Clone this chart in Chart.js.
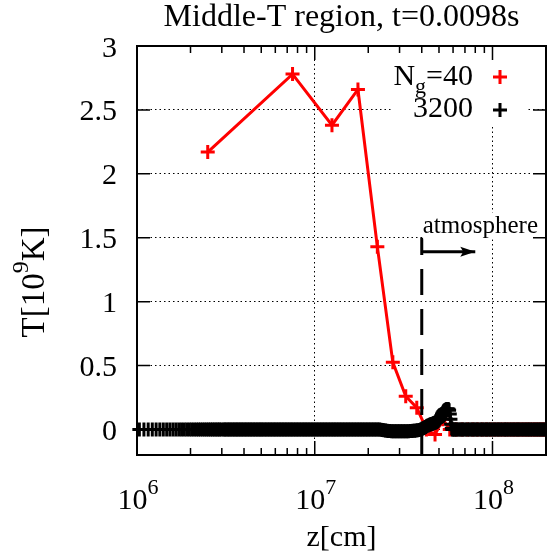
<!DOCTYPE html>
<html>
<head>
<meta charset="utf-8">
<script src="https://cdn.jsdelivr.net/npm/chart.js@4.4.1/dist/chart.umd.min.js"></script>
<style>
  html, body { margin: 0; padding: 0; background: #fff; }
  canvas { display: block; }
</style>
</head>
<body>
<canvas id="tempChart" width="548" height="556"></canvas>
<script>
// N_g = 40 run: cell centres [cm] and T [1e9 K]
const redZ = [2.5e6, 7.5e6, 1.25e7, 1.75e7, 2.25e7, 2.75e7, 3.25e7, 3.75e7, 4.25e7, 4.75e7,
  5.25e7, 5.75e7, 6.25e7, 6.75e7, 7.25e7, 7.75e7, 8.25e7, 8.75e7, 9.25e7, 9.75e7,
  1.025e8, 1.075e8, 1.125e8, 1.175e8, 1.225e8, 1.275e8, 1.325e8, 1.375e8, 1.425e8, 1.475e8,
  1.525e8, 1.575e8, 1.625e8, 1.675e8, 1.725e8, 1.775e8, 1.825e8, 1.875e8, 1.925e8, 1.975e8];
const redT = [2.17, 2.78, 2.38, 2.66, 1.43, 0.525, 0.26, 0.17, 0.0, -0.04,
  0.08, 0.0, 0, 0, 0, 0, 0, 0, 0, 0,
  0, 0, 0, 0, 0, 0, 0, 0, 0, 0,
  0, 0, 0, 0, 0, 0, 0, 0, 0, 0];

// N_g = 3200 run (thinned where the markers merge into one band)
const blackZ = [
  1.031e6, 1.094e6, 1.156e6, 1.219e6, 1.281e6, 1.344e6, 1.406e6, 1.469e6, 1.531e6, 1.594e6,
  1.656e6, 1.719e6, 1.781e6, 1.844e6, 1.906e6, 1.969e6, 2.031e6, 2.094e6, 2.156e6, 2.219e6,
  2.281e6, 2.344e6, 2.406e6, 2.469e6, 2.531e6, 2.594e6, 2.656e6, 2.719e6, 2.781e6, 2.844e6,
  2.906e6, 2.969e6, 3.06e6, 3.12e6, 3.18e6, 3.25e6, 3.31e6, 3.38e6, 3.45e6, 3.52e6,
  3.59e6, 3.66e6, 3.73e6, 3.81e6, 3.88e6, 3.96e6, 4.04e6, 4.12e6, 4.2e6, 4.29e6,
  4.37e6, 4.46e6, 4.55e6, 4.64e6, 4.74e6, 4.83e6, 4.93e6, 5.02e6, 5.12e6, 5.23e6,
  5.33e6, 5.44e6, 5.55e6, 5.66e6, 5.77e6, 5.89e6, 6.0e6, 6.12e6, 6.25e6, 6.37e6,
  6.5e6, 6.63e6, 6.76e6, 6.9e6, 7.03e6, 7.18e6, 7.32e6, 7.46e6, 7.61e6, 7.77e6,
  7.92e6, 8.08e6, 8.24e6, 8.41e6, 8.58e6, 8.75e6, 8.92e6, 9.1e6, 9.28e6, 9.47e6,
  9.66e6, 9.85e6, 1.005e7, 1.025e7, 1.045e7, 1.066e7, 1.088e7, 1.109e7, 1.132e7, 1.154e7,
  1.177e7, 1.201e7, 1.225e7, 1.25e7, 1.275e7, 1.3e7, 1.326e7, 1.353e7, 1.38e7, 1.407e7,
  1.436e7, 1.464e7, 1.494e7, 1.524e7, 1.554e7, 1.585e7, 1.617e7, 1.649e7, 1.682e7, 1.716e7,
  1.75e7, 1.785e7, 1.821e7, 1.857e7, 1.895e7, 1.933e7, 1.971e7, 2.01e7, 2.05e7, 2.092e7,
  2.134e7, 2.176e7, 2.22e7, 2.264e7, 2.31e7, 2.356e7, 2.403e7, 2.451e7, 2.5e7, 2.55e7,
  2.601e7, 2.653e7, 2.706e7, 2.76e7, 2.815e7, 2.872e7, 2.929e7, 2.988e7, 3.047e7, 3.108e7,
  3.171e7, 3.234e7, 3.299e7, 3.365e7, 3.432e7, 3.501e7, 3.571e7, 3.642e7, 3.715e7, 3.789e7,
  3.865e7, 3.942e7, 4.0e7, 4.05e7, 4.1e7, 4.15e7, 4.2e7, 4.25e7, 4.3e7, 4.35e7,
  4.4e7, 4.45e7, 4.5e7, 4.55e7, 4.6e7, 4.65e7, 4.7e7, 4.75e7, 4.8e7, 4.85e7,
  4.9e7, 4.95e7, 5.0e7, 5.05e7, 5.1e7, 5.15e7, 5.2e7, 5.25e7, 5.3e7, 5.35e7,
  5.4e7, 5.45e7, 5.5e7, 5.55e7, 5.6e7, 5.65e7, 5.7e7, 5.75e7, 5.8e7, 5.85e7,
  5.9e7, 5.95e7, 6.0e7, 6.1e7, 6.2e7, 6.3e7, 6.45e7, 6.55e7, 6.7e7, 6.8e7,
  6.95e7, 7.1e7, 7.25e7, 7.4e7, 7.55e7, 7.7e7, 7.85e7, 8.0e7, 8.15e7, 8.3e7,
  8.5e7, 8.65e7, 8.8e7, 9.0e7, 9.15e7, 9.35e7, 9.5e7, 9.7e7, 9.9e7, 1.01e8,
  1.03e8, 1.05e8, 1.07e8, 1.09e8, 1.11e8, 1.135e8, 1.16e8, 1.18e8, 1.2e8, 1.225e8,
  1.25e8, 1.275e8, 1.3e8, 1.325e8, 1.35e8, 1.38e8, 1.4e8, 1.43e8, 1.46e8, 1.49e8,
  1.52e8, 1.55e8, 1.58e8, 1.61e8, 1.64e8, 1.675e8, 1.71e8, 1.745e8, 1.78e8, 1.815e8,
  1.85e8, 1.885e8, 1.92e8, 1.96e8, 1.997e8];
const blackT = [
  0, 0, 0, 0, 0, 0, 0, 0, 0, 0,
  0, 0, 0, 0, 0, 0, 0, 0, 0, 0,
  0, 0, 0, 0, 0, 0, 0, 0, 0, 0,
  0, 0, 0, 0, 0, 0, 0, 0, 0, 0,
  0, 0, 0, 0, 0, 0, 0, 0, 0, 0,
  0, 0, 0, 0, 0, 0, 0, 0, 0, 0,
  0, 0, 0, 0, 0, 0, 0, 0, 0, 0,
  0, 0, 0, 0, 0, 0, 0, 0, 0, 0,
  0, 0, 0, 0, 0, 0, 0, 0, 0, 0,
  0, 0, 0, 0, 0, 0, 0, 0, 0, 0,
  0, 0, 0, 0, 0, 0, 0, 0, 0, 0,
  0, 0, 0, 0, 0, 0, 0, 0, 0, 0,
  0, 0, 0, 0, 0, 0, 0, 0, 0, 0,
  0, 0, 0, 0, 0, -0.003, -0.005, -0.007, -0.009, -0.011,
  -0.012, -0.013, -0.014, -0.015, -0.015, -0.015, -0.015, -0.015, -0.015, -0.015,
  -0.015, -0.015, -0.015, -0.014, -0.013, -0.012, -0.011, -0.01, -0.008, -0.006,
  -0.004, -0.001, 0.005, 0.008, 0.012, 0.016, 0.02, 0.024, 0.028, 0.031,
  0.035, 0.038, 0.04, 0.043, 0.045, 0.048, 0.05, 0.052, 0.055, 0.058,
  0.062, 0.068, 0.075, 0.085, 0.095, 0.108, 0.12, 0.13, 0.14, 0.147,
  0.152, 0.155, 0.158, 0.16, 0.16, 0.157, 0.15, 0.12, 0.08, 0.04,
  0.01, 0, 0, 0, 0, 0, 0, 0, 0, 0,
  0, 0, 0, 0, 0, 0, 0, 0, 0, 0,
  0, 0, 0, 0, 0, 0, 0, 0, 0, 0,
  0, 0, 0, 0, 0, 0, 0, 0, 0, 0,
  0, 0, 0, 0, 0, 0, 0, 0, 0, 0,
  0, 0, 0, 0, 0, 0, 0, 0, 0, 0,
  0, 0, 0, 0, 0];

const yTicks = [0, 0.5, 1, 1.5, 2, 2.5, 3];
const yTickLabels = ['0', '0.5', '1', '1.5', '2', '2.5', '3'];
const xDecades = [6, 7, 8];
const xMinor = [2e6, 3e6, 4e6, 5e6, 6e6, 7e6, 8e6, 9e6, 2e7, 3e7, 4e7, 5e7, 6e7, 7e7, 8e7, 9e7];

// atmosphere boundary marker
const atmZ = 4e7;
const atmTop = 1.5;
const arrowT = 1.39;
const arrowEndZ = 8e7;

const SERIF = '"Liberation Serif", "Times New Roman", serif';

function drawRich(ctx, parts, x, y, align) {
  let total = 0;
  parts.forEach(p => { ctx.font = p.size + 'px ' + SERIF; p.w = ctx.measureText(p.t).width; total += p.w; });
  let cx = align === 'center' ? x - total / 2 : align === 'right' ? x - total : x;
  ctx.textAlign = 'left';
  ctx.textBaseline = 'alphabetic';
  parts.forEach(p => {
    ctx.font = p.size + 'px ' + SERIF;
    ctx.fillText(p.t, cx, y + (p.dy || 0));
    cx += p.w;
  });
}

function cross(ctx, x, y, r, color) {
  ctx.save();
  ctx.strokeStyle = color;
  ctx.lineWidth = 3;
  ctx.beginPath();
  ctx.moveTo(x - r, y); ctx.lineTo(x + r, y);
  ctx.moveTo(x, y - r); ctx.lineTo(x, y + r);
  ctx.stroke();
  ctx.restore();
}

const decor = {
  id: 'decor',
  afterDatasetsDraw(chart) {
    const { ctx, chartArea: a, scales: { x, y } } = chart;
    ctx.save();
    ctx.fillStyle = '#000';

    // arrow head
    const tipX = x.getPixelForValue(arrowEndZ), tipY = y.getPixelForValue(arrowT);
    ctx.beginPath();
    ctx.moveTo(tipX, tipY);
    ctx.lineTo(tipX - 15, tipY - 5);
    ctx.lineTo(tipX - 12, tipY);
    ctx.lineTo(tipX - 15, tipY + 5);
    ctx.closePath();
    ctx.fill();

    // "atmosphere" label with opaque box
    const lx = x.getPixelForValue(atmZ), ly = y.getPixelForValue(atmTop) - 5;
    ctx.font = '25px ' + SERIF;
    const lw = ctx.measureText('atmosphere').width;
    ctx.fillStyle = '#fff';
    ctx.fillRect(lx + 1.5, ly - 20, lw + 2, 26.5);
    ctx.fillStyle = '#000';
    ctx.textAlign = 'left';
    ctx.textBaseline = 'alphabetic';
    ctx.fillText('atmosphere', lx + 1, ly);

    // key (opaque)
    ctx.fillStyle = '#fff';
    ctx.fillRect(a.right - 153, a.top + 8, 135, 72);
    ctx.fillStyle = '#000';
    drawRich(ctx, [{ t: 'N', size: 30 }, { t: 'g', size: 22, dy: 8 }, { t: '=40', size: 30 }], a.right - 73, a.top + 39, 'right');
    cross(ctx, a.right - 46, a.top + 31, 7, '#ff0000');
    drawRich(ctx, [{ t: '3200', size: 30 }], a.right - 73, a.top + 71, 'right');
    cross(ctx, a.right - 46, a.top + 64, 7, '#000');

    // frame
    ctx.strokeStyle = '#000';
    ctx.lineWidth = 2;
    ctx.strokeRect(a.left, a.top, a.right - a.left, a.bottom - a.top);

    // ticks (inward, mirrored)
    ctx.lineWidth = 1.5;
    ctx.beginPath();
    xDecades.forEach(e => {
      const px = x.getPixelForValue(Math.pow(10, e));
      ctx.moveTo(px, a.bottom); ctx.lineTo(px, a.bottom - 14);
      ctx.moveTo(px, a.top); ctx.lineTo(px, a.top + 14);
    });
    xMinor.forEach(v => {
      const px = x.getPixelForValue(v);
      ctx.moveTo(px, a.bottom); ctx.lineTo(px, a.bottom - 7);
      ctx.moveTo(px, a.top); ctx.lineTo(px, a.top + 7);
    });
    yTicks.forEach(v => {
      const py = y.getPixelForValue(v);
      ctx.moveTo(a.left, py); ctx.lineTo(a.left + 13, py);
      ctx.moveTo(a.right, py); ctx.lineTo(a.right - 13, py);
    });
    ctx.stroke();

    // tick labels
    ctx.fillStyle = '#000';
    ctx.font = '30px ' + SERIF;
    ctx.textAlign = 'right';
    ctx.textBaseline = 'alphabetic';
    yTicks.forEach((v, i) => ctx.fillText(yTickLabels[i], a.left - 20, y.getPixelForValue(v) + 10.5));
    xDecades.forEach(e => {
      drawRich(ctx, [{ t: '10', size: 30 }, { t: String(e), size: 22, dy: -15 }], x.getPixelForValue(Math.pow(10, e)) + 1, a.bottom + 54, 'center');
    });

    // axis titles and plot title
    drawRich(ctx, [{ t: 'z[cm]', size: 30 }], (a.left + a.right) / 2, a.bottom + 91, 'center');
    drawRich(ctx, [{ t: 'Middle-T region, t=0.0098s', size: 32 }], (a.left + a.right) / 2, 26, 'center');
    ctx.save();
    ctx.translate(44, 282);
    ctx.rotate(-Math.PI / 2);
    drawRich(ctx, [{ t: 'T[10', size: 33 }, { t: '9', size: 24, dy: -16 }, { t: 'K]', size: 33 }], 0, 0, 'center');
    ctx.restore();

    ctx.restore();
  }
};

const dotted = { color: '#000', lineWidth: 1, drawTicks: false };

new Chart(document.getElementById('tempChart'), {
  type: 'scatter',
  data: {
    datasets: [
      {
        label: 'boundary',
        data: [{ x: atmZ, y: -0.2 }, { x: atmZ, y: atmTop }],
        showLine: true, borderColor: '#000', borderWidth: 3, borderDash: [26, 14],
        pointRadius: 0, order: -2
      },
      {
        label: 'arrow',
        data: [{ x: atmZ, y: arrowT }, { x: arrowEndZ, y: arrowT }],
        showLine: true, borderColor: '#000', borderWidth: 3, pointRadius: 0, order: -1
      },
      {
        label: '3200',
        data: blackZ.map((z, i) => ({ x: z, y: blackT[i] })),
        showLine: false, pointStyle: 'cross', pointRadius: 7, pointBorderWidth: 3,
        pointBorderColor: '#000', borderColor: '#000', order: 0,
        clip: { left: 8, top: 0, right: 0, bottom: 0 }
      },
      {
        label: 'N_g=40',
        data: redZ.map((z, i) => ({ x: z, y: redT[i] })),
        showLine: true, borderColor: '#ff0000', borderWidth: 3,
        pointStyle: 'cross', pointRadius: 7, pointBorderWidth: 3, pointBorderColor: '#ff0000',
        order: 1
      }
    ]
  },
  options: {
    responsive: false,
    animation: false,
    devicePixelRatio: 1,
    layout: { autoPadding: false, padding: { left: 137, top: 46, right: 2, bottom: 101 } },
    plugins: { legend: { display: false }, tooltip: { enabled: false } },
    scales: {
      x: {
        type: 'logarithmic', min: 1e6, max: 2e8,
        afterBuildTicks: s => { s.ticks = xDecades.map(e => ({ value: Math.pow(10, e) })); },
        ticks: { display: false },
        grid: dotted,
        border: { display: false, dash: [1.5, 3] }
      },
      y: {
        type: 'linear', min: -0.2, max: 3,
        afterBuildTicks: s => { s.ticks = yTicks.map(v => ({ value: v })); },
        ticks: { display: false },
        grid: dotted,
        border: { display: false, dash: [1.5, 3] }
      }
    }
  },
  plugins: [decor]
});
</script>
</body>
</html>
